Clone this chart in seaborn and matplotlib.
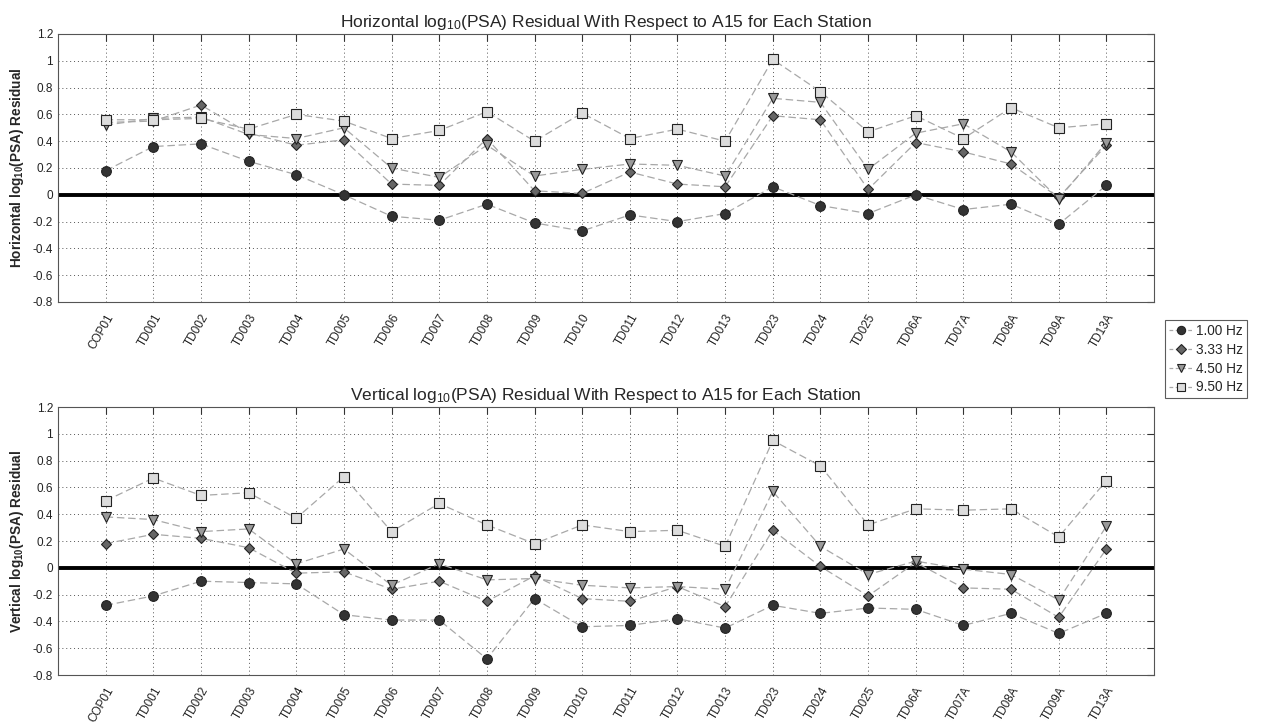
import matplotlib
matplotlib.use("Agg")
import matplotlib.pyplot as plt
import seaborn as sns
import numpy as np
import pandas as pd
from matplotlib.lines import Line2D

stations = ["COP01", "TD001", "TD002", "TD003", "TD004", "TD005", "TD006", "TD007",
            "TD008", "TD009", "TD010", "TD011", "TD012", "TD013", "TD023", "TD024",
            "TD025", "TD06A", "TD07A", "TD08A", "TD09A", "TD13A"]
freq_labels = ["1.00 Hz", "3.33 Hz", "4.50 Hz", "9.50 Hz"]

h_100 = [0.18, 0.36, 0.38, 0.25, 0.15, 0.00, -0.16, -0.19, -0.07, -0.21, -0.27, -0.15,
         -0.20, -0.14, 0.06, -0.08, -0.14, 0.00, -0.11, -0.07, -0.22, 0.07]
h_333 = [0.54, 0.55, 0.67, 0.46, 0.37, 0.41, 0.08, 0.07, 0.42, 0.03, 0.01, 0.17,
         0.08, 0.06, 0.59, 0.56, 0.04, 0.39, 0.32, 0.23, -0.02, 0.37]
h_450 = [0.52, 0.57, 0.58, 0.45, 0.42, 0.50, 0.20, 0.13, 0.37, 0.14, 0.19, 0.23,
         0.22, 0.14, 0.72, 0.69, 0.19, 0.46, 0.53, 0.32, -0.03, 0.39]
h_950 = [0.56, 0.56, 0.57, 0.49, 0.60, 0.55, 0.42, 0.48, 0.62, 0.40, 0.61, 0.42,
         0.49, 0.40, 1.01, 0.77, 0.47, 0.59, 0.42, 0.65, 0.50, 0.53]

v_100 = [-0.28, -0.21, -0.10, -0.11, -0.12, -0.35, -0.39, -0.39, -0.68, -0.23, -0.44, -0.43,
         -0.38, -0.45, -0.28, -0.34, -0.30, -0.31, -0.43, -0.34, -0.49, -0.34]
v_333 = [0.18, 0.25, 0.22, 0.15, -0.04, -0.03, -0.16, -0.10, -0.25, -0.06, -0.23, -0.25,
         -0.14, -0.29, 0.28, 0.01, -0.21, 0.04, -0.15, -0.16, -0.37, 0.14]
v_450 = [0.38, 0.36, 0.27, 0.29, 0.03, 0.14, -0.13, 0.03, -0.09, -0.08, -0.13, -0.15,
         -0.14, -0.16, 0.57, 0.16, -0.05, 0.05, -0.01, -0.05, -0.24, 0.31]
v_950 = [0.50, 0.67, 0.54, 0.56, 0.37, 0.68, 0.27, 0.48, 0.32, 0.18, 0.32, 0.27,
         0.28, 0.16, 0.95, 0.76, 0.32, 0.44, 0.43, 0.44, 0.23, 0.65]

y_ticks = [-0.8, -0.6, -0.4, -0.2, 0, 0.2, 0.4, 0.6, 0.8, 1, 1.2]

sns.set_style("white")
plt.rcParams['font.family'] = ['Liberation Sans', 'DejaVu Sans']
plt.rcParams['mathtext.fontset'] = 'custom'
plt.rcParams['mathtext.rm'] = 'Liberation Sans'
plt.rcParams['mathtext.it'] = 'Liberation Sans'
plt.rcParams['mathtext.bf'] = 'Liberation Sans:bold'

markers = ["o", "D", "v", "s"]
fills = ["#333333", "#666666", "#9a9a9a", "#dcdcdc"]
msizes = [7, 5.5, 7, 6.5]
line_col = "#a8a8a8"

fig = plt.figure(figsize=(12.7, 7.25), dpi=100)
ax_top = fig.add_axes([58/1270, 1-302/725, 1096/1270, 268/725])
ax_bot = fig.add_axes([58/1270, 1-675/725, 1096/1270, 268/725])

xs = np.arange(1, len(stations) + 1)

def draw(ax, series, title, ylabel):
    for vals, m, fc, ms, lab in zip(series, markers, fills, msizes, freq_labels):
        df = pd.DataFrame({"x": xs, "y": vals})
        sns.lineplot(data=df, x="x", y="y", ax=ax, color=line_col, linestyle=(0, (6, 3)),
                     linewidth=0.9, marker=m, markersize=ms, markerfacecolor=fc,
                     markeredgecolor="#222222", markeredgewidth=0.8, sort=False,
                     label=lab, legend=False)
    ax.axhline(0, color="black", linewidth=2.8, zorder=1.5)
    ax.set_xlim(0, len(stations) + 1)
    ax.set_ylim(-0.8, 1.2)
    ax.set_xticks(xs)
    ax.set_xticklabels(stations, rotation=60, ha="right", rotation_mode="anchor")
    ax.set_yticks(y_ticks)
    ax.set_yticklabels(["%g" % t for t in y_ticks])
    ax.tick_params(axis="both", direction="in", length=5, width=0.8, colors="#333333",
                   labelsize=8.5, top=True, right=True, labelcolor="#222222")
    ax.tick_params(axis="x", pad=7)
    ax.grid(True, linestyle=(0, (1, 3)), color="#555555", linewidth=0.7)
    for s in ax.spines.values():
        s.set_color("#555555")
        s.set_linewidth(0.8)
    ax.set_xlabel("")
    ax.set_ylabel(ylabel, fontsize=9.8, fontweight="bold", labelpad=5)
    ax.set_title(title, fontsize=12.5, pad=5)

draw(ax_top, [h_100, h_333, h_450, h_950],
     r"Horizontal log$_{10}$(PSA) Residual With Respect to A15 for Each Station",
     r"Horizontal log$_{\mathbf{10}}$(PSA) Residual")
draw(ax_bot, [v_100, v_333, v_450, v_950],
     r"Vertical log$_{10}$(PSA) Residual With Respect to A15 for Each Station",
     r"Vertical log$_{\mathbf{10}}$(PSA) Residual")

handles = [Line2D([], [], color=line_col, linestyle=(0, (3, 2)), linewidth=0.9,
                  marker=m, markersize=ms * 0.85, markerfacecolor=fc,
                  markeredgecolor="#222222", markeredgewidth=0.8)
           for m, fc, ms in zip(markers, fills, msizes)]
leg = fig.legend(handles, freq_labels, loc="upper left",
                 bbox_to_anchor=(1165/1270, 1-320/725), fontsize=9.8,
                 frameon=True, fancybox=False, edgecolor="#333333",
                 handlelength=1.8, handletextpad=0.2, borderpad=0.3,
                 labelspacing=0.35, borderaxespad=0)
leg.get_frame().set_linewidth(0.8)

fig.savefig("out.png", dpi=100)
